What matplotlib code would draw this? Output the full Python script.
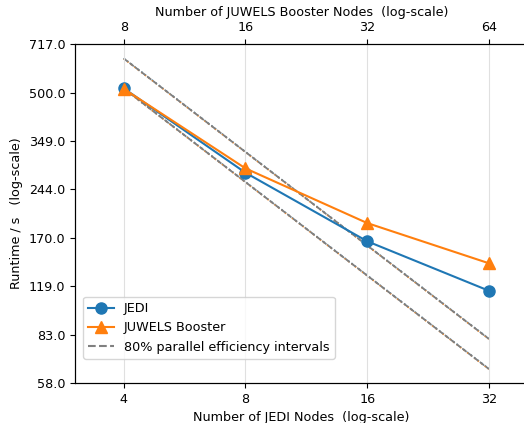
import matplotlib
matplotlib.use("Agg")
import matplotlib.pyplot as plt
from matplotlib.ticker import NullLocator, FixedLocator, FixedFormatter
import numpy as np

plt.rcParams["font.size"] = 9.2

# runtimes
jedi_nodes = [4, 8, 16, 32]
juwels_nodes = [8, 16, 32, 64]
jedi_time = [516, 276, 166, 115]
juwels_time = [514, 285, 190, 141]
ytick_vals = [58, 83, 119, 170, 244, 349, 500, 717]
efficiency = 0.8

fig = plt.figure(figsize=(5.24, 4.23), dpi=100)
ax = fig.add_axes([75 / 524, 40 / 423, (528 - 75) / 524, 339 / 423])

x = np.array(jedi_nodes, dtype=float)

# ideal and 80% efficiency scaling lines, one pair per system
for t, c in [(jedi_time, "C0"), (juwels_time, "C1")]:
    ideal = t[0] * x[0] / x
    for line in (ideal, ideal / efficiency):
        ax.plot(x, line, color=c, lw=1.2, ls=":", alpha=0.8, zorder=1)
        ax.plot(x, line, color="gray", lw=1.0, ls="--", zorder=1.5)

ax.plot(x, jedi_time, "o-", color="C0", ms=8, label="JEDI", zorder=3)
ax.plot(x, juwels_time, "^-", color="C1", ms=8, label="JUWELS Booster", zorder=3)
ax.plot([], [], "--", color="gray", label="80% parallel efficiency intervals")

ax.set_xscale("log")
ax.set_yscale("log")
ax.set_xlim(3.03, 40)
ax.set_ylim(58, 717)

ax.xaxis.set_major_locator(FixedLocator(jedi_nodes))
ax.xaxis.set_major_formatter(FixedFormatter([str(n) for n in jedi_nodes]))
ax.xaxis.set_minor_locator(NullLocator())
ax.yaxis.set_major_locator(FixedLocator(ytick_vals))
ax.yaxis.set_major_formatter(FixedFormatter(["%.1f" % v for v in ytick_vals]))
ax.yaxis.set_minor_locator(NullLocator())
ax.xaxis.grid(True, color="0.88", lw=0.8)

ax.set_xlabel("Number of JEDI Nodes  (log-scale)")
ax.set_ylabel("Runtime / s   (log-scale)")
ax.legend(loc="lower left", bbox_to_anchor=(0.018, 0.071), borderaxespad=0)

ax2 = ax.twiny()
ax2.set_xscale("log")
ax2.set_xlim(2 * 3.03, 2 * 40)
ax2.xaxis.set_major_locator(FixedLocator(juwels_nodes))
ax2.xaxis.set_major_formatter(FixedFormatter([str(n) for n in juwels_nodes]))
ax2.xaxis.set_minor_locator(NullLocator())
ax2.set_xlabel("Number of JUWELS Booster Nodes  (log-scale)")

fig.savefig("out.png", dpi=100)
